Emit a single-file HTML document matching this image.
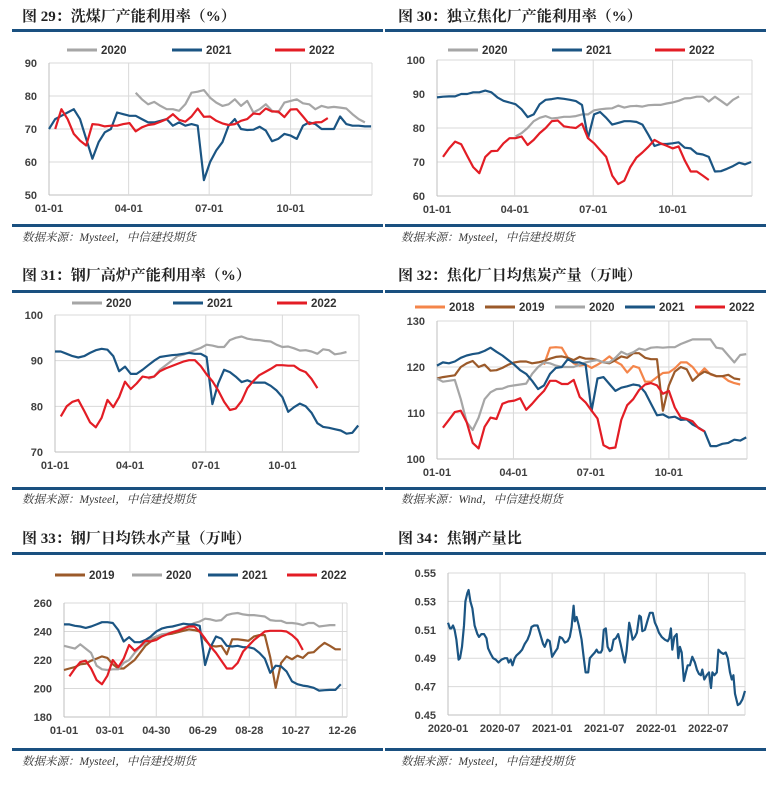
<!DOCTYPE html>
<html><head><meta charset="utf-8">
<style>
html,body{margin:0;padding:0;background:#fff;}
svg{display:block;}
.ttl{font-family:"Liberation Serif","Noto Serif CJK SC",serif;font-size:15px;font-weight:bold;fill:#222;}
.src{font-family:"Liberation Serif","Noto Serif CJK SC",serif;font-size:11.5px;font-style:italic;fill:#333;}
.tk{font-family:"Liberation Sans",sans-serif;font-size:11px;font-weight:bold;fill:#404040;}
.lg{font-family:"Liberation Sans",sans-serif;font-size:11.5px;font-weight:bold;fill:#333;}
</style></head>
<body>
<svg id="root" width="771" height="786" viewBox="0 0 771 786" xmlns="http://www.w3.org/2000/svg">
<rect x="0" y="0" width="771" height="786" fill="#fff"/>
<!-- titles -->
<text class="ttl" x="22" y="21">图 29：洗煤厂产能利用率（%）</text>
<text class="ttl" x="398" y="21">图 30：独立焦化厂产能利用率（%）</text>
<text class="ttl" x="22" y="280">图 31：钢厂高炉产能利用率（%）</text>
<text class="ttl" x="398" y="280">图 32：焦化厂日均焦炭产量（万吨）</text>
<text class="ttl" x="22" y="543">图 33：钢厂日均铁水产量（万吨）</text>
<text class="ttl" x="398" y="543">图 34：焦钢产量比</text>
<!-- bars -->
<g fill="#1a5080">
<rect x="12" y="29" width="371" height="3"/>
<rect x="385" y="29" width="381" height="3"/>
<rect x="12" y="224" width="371" height="3"/>
<rect x="385" y="224" width="381" height="3"/>
<rect x="12" y="290" width="371" height="3"/>
<rect x="385" y="290" width="381" height="3"/>
<rect x="12" y="487" width="371" height="3"/>
<rect x="385" y="487" width="381" height="3"/>
<rect x="12" y="552" width="371" height="3"/>
<rect x="385" y="552" width="381" height="3"/>
<rect x="12" y="748" width="371" height="3"/>
<rect x="385" y="748" width="381" height="3"/>
</g>
<!-- sources -->
<text class="src" x="22" y="241">数据来源：Mysteel，中信建投期货</text>
<text class="src" x="401" y="241">数据来源：Mysteel，中信建投期货</text>
<text class="src" x="22" y="503">数据来源：Mysteel，中信建投期货</text>
<text class="src" x="401" y="503">数据来源：Wind，中信建投期货</text>
<text class="src" x="22" y="765">数据来源：Mysteel，中信建投期货</text>
<text class="src" x="401" y="765">数据来源：Mysteel，中信建投期货</text>
</svg>
<script>
// ---------- data ----------
const c29Years = ['2020','2021','2022'];
const c29Starts = [14, 0, 1];
const c29_2020 = [81,79,77.5,78.2,77,76,76,75.5,77.5,81,81.3,81.8,79.5,78,77,77.5,79,77,78.5,75,76,77.5,75.5,75,78,78.5,79,77.8,77.5,76,77,76.5,76.7,76.5,76.2,74.5,73,72];
const c29_2021 = [70,73,74,75,76,73,67,61,66,69,70,75,74.5,74,74,73,72,72,72.5,73,71,72,71,71.5,71,54.5,60,63.5,66,71,73,70,69.7,69.8,70.7,69.5,66.3,67,68.5,68,67,71,72,71.5,70,70,70,73.8,71.5,71,71,70.8,70.8];
const c29_2022 = [70,76,73,68.5,66.5,65,71.5,71.3,70.8,71,71,71.5,71.8,69.3,70.5,71.2,71.5,72.2,73,74.5,72.8,72.2,73.8,76.2,73.7,73.8,72.5,71.7,71.2,71.5,72.5,73,74.7,74.5,76.2,75.3,75.3,73.6,75.9,76,73.8,71.5,72,72.1,73.3];
const c29YTicks = [50,60,70,80,90];

const c30Starts = [13, 0, 1];
const c30_2020 = [77.5,78.5,80,82,83,83.5,82.8,83,83.3,83.3,83.5,84,84,85.2,85.5,85.7,85.8,86.6,86,86.4,86.5,86.3,86.7,86.8,86.8,87.2,87.5,88,88.7,88.8,89.2,89.2,87.8,89.2,88,86.7,88.3,89.3];
const c30_2021 = [89,89.2,89.3,89.3,90,90,90.5,90.5,91,90.5,89,88,87.5,87,85.5,83.2,84,87,88.3,88.5,88.8,88.6,88.3,87.9,86.8,77,84,84.7,83,81,81.5,82,82,81.8,81,78,74.7,75.3,75.3,75.5,75.8,74.2,74,72.5,72.2,71.5,67.2,67.3,68,68.8,69.8,69.3,70];
const c30_2022 = [71.5,74,76,75.2,71.8,68.5,66.7,71.5,73.2,73.3,75.5,77,77,77.5,75,76.5,78.5,80,82,82.2,80.5,80.2,80,81.3,77,75.5,73.5,71.5,66,63.5,64.5,68.5,71.3,72.8,74.5,76.5,75.5,74.8,74,74.6,70.5,67.2,67.2,66,64.7];
const c30YTicks = [60,70,80,90,100];

const c31Starts = [16, 0, 1];
const c31_2020 = [86,86.5,88,89,90,91,91.3,91.8,92.3,92.8,93.5,93.3,93,93,94.5,95,95.3,94.8,94.6,94.5,94.3,94.2,93.5,93,93.1,92.7,92.2,92.3,92,91.5,92.5,92.3,91.4,91.6,91.9];
const c31_2021 = [92,92,91.5,91,90.7,91,91.7,92.3,92.6,92.4,91,87.7,88.7,87.1,87.1,88,89,90,90.8,91,91.2,91.3,91.5,91.7,91.5,91.5,90.8,80.5,85,88,87.5,86.5,85.3,85.7,85.2,85.2,85.2,84.5,83.5,82,78.8,79.8,80.6,80,78.6,76.3,75.5,75.3,75,74.7,74,74.2,75.8];
const c31_2022 = [77.8,80,81,81.4,79,76.5,75.4,77.5,81.4,79.8,82,85.4,83.8,85,86.5,86.3,86.5,87.7,88.3,88.8,89.3,89.8,90.1,90.1,88.8,87,85.5,83.5,81,79.2,79.5,81.2,84,85.5,86.8,87.5,88.2,89,89,88.9,88.9,88,87.5,86,84];
const c31YTicks = [70,80,90,100];

const c32Starts = [18, 0, 0, 0, 1];
const c32_2018 = [120.5,124.2,124.3,124.2,122,120.8,120.3,120.5,119.8,120.5,121.3,122.3,121.2,120.5,118.8,120.2,119.8,116.8,116.8,117.8,118.7,118.8,119.7,121,121,120,118.3,119.7,118.4,118,118,117,116.5,116.2];
const c32_2019 = [117.5,117.8,118,118.2,120,120.8,121.3,120,120.5,119.2,119.3,119.8,120.5,121,121.2,121.2,120.8,121,121.3,121.8,122.2,122.3,122,121.5,122.2,121.8,121.8,121.5,121,120.8,121.5,122.3,122,123,123,122,121.7,121.7,110.5,116,119,120,119.5,117,118.2,119,118.5,118,118,118.3,117.5,117.3];
const c32_2020 = [117.5,116.8,117,117.2,113,108,106.3,109,113,114.5,115.2,115.3,115.8,116,116.2,116.4,118.5,120,121,120.8,120.3,120,120,120,120.5,121,121.3,121.5,121,121,122,123.3,122.7,123.2,124,123.7,124.2,124.3,124.2,124.3,124.3,125,125.5,126,126,126,126,124.2,124,122.5,121,122.6,122.8];
const c32_2021 = [120.3,121,120.8,121.2,122,122.5,122.8,123,123.5,124.2,123.3,122.5,121.5,120.5,119.3,118.5,117,115.2,116,118.5,119.8,120,121.7,121,121,120.5,110.5,117.5,117.8,116.3,114.8,115.5,115.8,116.2,116,114.5,112,109.5,109.7,109,109.2,108.5,108.6,107.5,106.8,106,102.8,102.8,103.3,103.5,104.2,104,104.7];
const c32_2022 = [106.8,108.5,110.2,110.5,108,103.5,102.3,107,109,108.7,112,112.5,112.7,113.2,110.7,112,113.5,114.8,117,117,116.3,116.3,117.2,113.5,112.3,110.5,108.8,103,102.3,102.5,108.5,111.7,113,115,116.2,116.5,116,114.2,114.8,111.2,109,108.7,108.2,106.7,106];
const c32YTicks = [100,110,120,130];

const c33Starts = [0, 0, 0, 1];
const c33_2019 = [213,214,215,217,217.5,219.5,221,222.5,221.5,217,214,214,217,220,225,230,233,236,237.5,238,238.5,239.5,240.5,241.5,241,240,234,230,229.5,230,224,234.5,234.5,234,233.5,236.5,237.5,237.5,222,200.5,218,222.5,220.5,223,221.5,225,225.5,229,232,230,227.5,227.5];
const c33_2020 = [230,229,228,231,228,225,216,213.5,213,213.5,213.5,218,220,225,229,232,235,236.5,238,238.5,239.5,241,242.5,244,246,247,249,248.5,247.5,248,251.5,252.5,253,252,251.5,251.5,251,250.5,248,247.5,247.5,246,246,245.5,244.5,246,246,243.5,244,244.5,244.5];
const c33_2021 = [245,245,244,243.5,242.5,243.5,245,246.5,246.5,246,241,233,236,232.5,232.5,234,236.5,240,242,243,243.5,244.5,245.5,245,245,244,216.5,229,236.5,235,230,229.5,230,229,229,228,225,221,211,216,215.5,212,205,203,202,201.5,200.5,198.5,198.8,199,199,203];
const c33_2022 = [208.5,214,218.5,219.5,214,206,203,209,220,215,221,230.5,226.5,229.5,233.5,233,234,236.5,238,239.5,240.5,242,243.5,243.5,240,235,229.5,225,219.5,214,214,218,226,230,234,237,240,240.5,240.5,240.5,240,237.5,234,227];
const c33YTicks = [180,200,220,240,260];
const c33XTicks = ['01-01','03-01','04-30','06-29','08-28','10-27','12-26'];
const c33XTickDays = [0,59,119,179,239,299,359];

const yearXTicks = ['01-01','04-01','07-01','10-01'];
const yearXTickDays = [0,90,181,273];

const c34Weeks = [0,1,1.7,2.5,3.3,4.2,5.3,6,7,8,8.7,9.7,10.3,11.2,12.2,13.3,14.7,15.5,16.7,18,19.2,20,21.3,22.5,23.8,25.2,26.7,28.3,29.5,30.3,31.3,32.2,33.3,34.2,35.8,37,38.3,39.7,40.8,41.7,43,44.7,45.8,47.5,48.3,49.7,50.8,52,53.3,54.7,55.8,57,58.3,59.7,60.8,61.7,62.7,63.3,64.2,65.3,66.7,67.8,68.7,70,70.8,72,73.3,74.2,75,76.3,77,77.8,78.8,79.7,80.8,81.7,82.7,83.8,85,86.2,87.7,88.3,89.2,90.5,91.3,92.2,93.3,94.3,95.5,96.3,97,98.3,99.7,100.8,102.2,103.3,104.3,105.3,106.7,108.3,109.7,110.5,111.3,112,113,114.2,115,115.8,116.7,117.8,118.8,119.7,120.8,122,123.3,124.3,125.3,126.3,127,128,129.2,130.3,131.3,132,133,134.2,135,136.3,137.5,138.7,139.7,140.8,141.7,142.5,143.3,144.7,145.8,147,148.3];
const c34Values = [0.515,0.511,0.511,0.513,0.510,0.503,0.489,0.490,0.498,0.513,0.530,0.536,0.538,0.530,0.525,0.513,0.507,0.505,0.507,0.507,0.504,0.497,0.493,0.490,0.489,0.487,0.489,0.490,0.490,0.487,0.489,0.485,0.490,0.492,0.494,0.496,0.500,0.503,0.507,0.512,0.513,0.513,0.508,0.500,0.498,0.503,0.502,0.491,0.494,0.497,0.505,0.504,0.501,0.502,0.505,0.512,0.527,0.516,0.519,0.513,0.503,0.490,0.480,0.480,0.490,0.492,0.494,0.496,0.494,0.494,0.496,0.510,0.511,0.498,0.495,0.496,0.503,0.504,0.507,0.500,0.490,0.487,0.495,0.515,0.510,0.503,0.505,0.508,0.520,0.519,0.509,0.510,0.517,0.522,0.522,0.515,0.512,0.508,0.505,0.503,0.502,0.504,0.511,0.496,0.505,0.507,0.490,0.498,0.494,0.474,0.480,0.485,0.485,0.491,0.487,0.482,0.479,0.478,0.482,0.475,0.478,0.480,0.469,0.480,0.478,0.480,0.496,0.494,0.493,0.494,0.490,0.480,0.475,0.478,0.465,0.457,0.458,0.461,0.467];
const c34YTicks = [0.45,0.47,0.49,0.51,0.53,0.55];
const c34XTicks = ['2020-01','2020-07','2021-01','2021-07','2022-01','2022-07'];
const c34XTickWeeks = [0,26,52,78,104,130];

// ---------- drawing ----------
const NS = 'http://www.w3.org/2000/svg';
const root = document.getElementById('root');
const COL = {y2018:'#f4854a', y2019:'#9b5a2a', y2020:'#a6a6a6', y2021:'#1b5583', y2022:'#e31d25'};

function el(tag, parent){ const e = document.createElementNS(NS, tag); parent.appendChild(e); return e; }

function makeChart(id, box, yTicks, xLabels, xPos, xMax){
  const g = el('g', root);
  
  
  const ymin = yTicks[0], ymax = yTicks[yTicks.length-1];
  const sx = v => box.l + v / xMax * (box.r - box.l);
  const sy = v => box.t + (ymax - v) / (ymax - ymin) * (box.b - box.t);
  yTicks.forEach((t, i) => {
    const ln = el('line', g);
    
    
    ln.setAttribute('x1', box.l); ln.setAttribute('x2', box.r);
    ln.setAttribute('y1', sy(t)); ln.setAttribute('y2', sy(t));
    ln.setAttribute('stroke', i === 0 ? '#bfbfbf' : '#d9d9d9'); ln.setAttribute('stroke-width', 1);
    const tx = el('text', g);
    
    
    tx.setAttribute('class', 'tk'); tx.setAttribute('x', box.l - 12); tx.setAttribute('y', sy(t) + 4);
    tx.setAttribute('text-anchor', 'end');
    tx.textContent = box.fmt ? box.fmt(t) : t;
  });
  const vx = xPos.concat([xMax]);
  vx.forEach((p, i) => {
    const ln = el('line', g);
    
    
    ln.setAttribute('x1', sx(p)); ln.setAttribute('x2', sx(p));
    ln.setAttribute('y1', box.t); ln.setAttribute('y2', box.b);
    ln.setAttribute('stroke', i === 0 ? '#bfbfbf' : '#d9d9d9'); ln.setAttribute('stroke-width', 1);
  });
  xLabels.forEach((lab, i) => {
    const tx = el('text', g);
    
    
    tx.setAttribute('class', 'tk'); tx.setAttribute('x', sx(xPos[i])); tx.setAttribute('y', box.b + 17);
    tx.setAttribute('text-anchor', 'middle');
    tx.textContent = lab;
  });
  return {g, sx, sy};
}

function drawLine(ch, xs, vals, color, name){
  const p = el('polyline', ch.g);
  
  
  p.setAttribute('points', vals.map((v, i) => ch.sx(xs[i]).toFixed(1) + ',' + ch.sy(v).toFixed(1)).join(' '));
  p.setAttribute('fill', 'none'); p.setAttribute('stroke', color);
  p.setAttribute('stroke-width', 2.2); p.setAttribute('stroke-linejoin', 'round');
}
function weekDays(start, vals){ return vals.map((v, i) => (start + i) * 7); }

function legend(y, items){
  items.forEach(it => {
    const ln = el('line', root);
    
    
    ln.setAttribute('x1', it[0]); ln.setAttribute('x2', it[0] + 30);
    ln.setAttribute('y1', y); ln.setAttribute('y2', y);
    ln.setAttribute('stroke', it[1]); ln.setAttribute('stroke-width', 3);
    const tx = el('text', root);
    
    
    tx.setAttribute('class', 'lg'); tx.setAttribute('x', it[0] + 34); tx.setAttribute('y', y + 4);
    tx.textContent = it[2];
  });
}

// chart 29
let ch = makeChart('chart-29', {l:49, r:372, t:63, b:195}, c29YTicks, yearXTicks, yearXTickDays, 365);
drawLine(ch, weekDays(c29Starts[0], c29_2020), c29_2020, COL.y2020, 'line-2020');
drawLine(ch, weekDays(c29Starts[1], c29_2021), c29_2021, COL.y2021, 'line-2021');
drawLine(ch, weekDays(c29Starts[2], c29_2022), c29_2022, COL.y2022, 'line-2022');
legend(50, [[67,COL.y2020,'2020','2020'],[172,COL.y2021,'2021','2021'],[275,COL.y2022,'2022','2022']]);

// chart 30
ch = makeChart('chart-30', {l:437, r:752, t:60, b:196}, c30YTicks, yearXTicks, yearXTickDays, 365);
drawLine(ch, weekDays(c30Starts[0], c30_2020), c30_2020, COL.y2020, 'line-2020');
drawLine(ch, weekDays(c30Starts[1], c30_2021), c30_2021, COL.y2021, 'line-2021');
drawLine(ch, weekDays(c30Starts[2], c30_2022), c30_2022, COL.y2022, 'line-2022');
legend(50, [[448,COL.y2020,'2020','2020'],[552,COL.y2021,'2021','2021'],[655,COL.y2022,'2022','2022']]);

// chart 31
ch = makeChart('chart-31', {l:55, r:359, t:315, b:452}, c31YTicks, yearXTicks, yearXTickDays, 365);
drawLine(ch, weekDays(c31Starts[0], c31_2020), c31_2020, COL.y2020, 'line-2020');
drawLine(ch, weekDays(c31Starts[1], c31_2021), c31_2021, COL.y2021, 'line-2021');
drawLine(ch, weekDays(c31Starts[2], c31_2022), c31_2022, COL.y2022, 'line-2022');
legend(303, [[72,COL.y2020,'2020','2020'],[173,COL.y2021,'2021','2021'],[277,COL.y2022,'2022','2022']]);

// chart 32
ch = makeChart('chart-32', {l:437, r:747, t:321, b:459}, c32YTicks, yearXTicks, yearXTickDays, 365);
drawLine(ch, weekDays(c32Starts[0], c32_2018), c32_2018, COL.y2018, 'line-2018');
drawLine(ch, weekDays(c32Starts[1], c32_2019), c32_2019, COL.y2019, 'line-2019');
drawLine(ch, weekDays(c32Starts[2], c32_2020), c32_2020, COL.y2020, 'line-2020');
drawLine(ch, weekDays(c32Starts[3], c32_2021), c32_2021, COL.y2021, 'line-2021');
drawLine(ch, weekDays(c32Starts[4], c32_2022), c32_2022, COL.y2022, 'line-2022');
legend(307, [[415,COL.y2018,'2018','2018'],[485,COL.y2019,'2019','2019'],[555,COL.y2020,'2020','2020'],[625,COL.y2021,'2021','2021'],[695,COL.y2022,'2022','2022']]);

// chart 33
ch = makeChart('chart-33', {l:64, r:347, t:603, b:717}, c33YTicks, c33XTicks, c33XTickDays, 365);
drawLine(ch, weekDays(c33Starts[0], c33_2019), c33_2019, COL.y2019, 'line-2019');
drawLine(ch, weekDays(c33Starts[1], c33_2020), c33_2020, COL.y2020, 'line-2020');
drawLine(ch, weekDays(c33Starts[2], c33_2021), c33_2021, COL.y2021, 'line-2021');
drawLine(ch, weekDays(c33Starts[3], c33_2022), c33_2022, COL.y2022, 'line-2022');
legend(575, [[55,COL.y2019,'2019','2019'],[132,COL.y2020,'2020','2020'],[208,COL.y2021,'2021','2021'],[287,COL.y2022,'2022','2022']]);

// chart 34
ch = makeChart('chart-34', {l:448, r:745, t:573, b:715, fmt: v => v.toFixed(2)}, c34YTicks, c34XTicks, c34XTickWeeks, 148.3);
drawLine(ch, c34Weeks, c34Values, COL.y2021, 'line-coke-steel-ratio');
</script>
</body></html>
